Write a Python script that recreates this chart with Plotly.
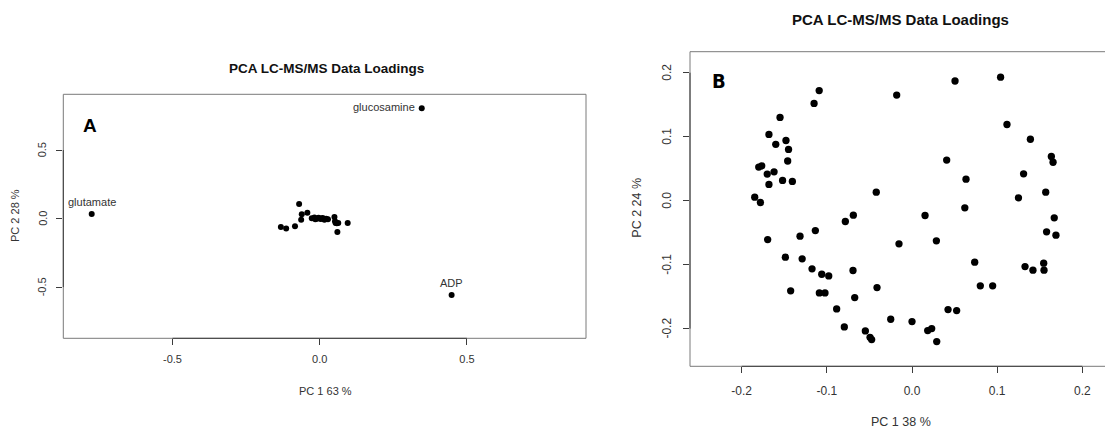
import plotly.graph_objects as go

W, H = 1105, 434

# ---------------- Panel A: loadings, 3 outlying metabolites + central cluster
a_named = ["glucosamine", "glutamate", "ADP"]
a_named_x = [0.3465, -0.7745, 0.448]
a_named_y = [0.804, 0.033, -0.558]
a_named_pos = ["left", "top", "top"]

a_cluster_x = [-0.132, -0.114, -0.084, -0.070, -0.061, -0.063, -0.042, -0.027,
               -0.018, -0.010, -0.004, 0.003, 0.010, 0.016, 0.022, 0.028,
               0.050, 0.052, 0.054, 0.058, 0.063, 0.060, 0.095, -0.015, 0.005]
a_cluster_y = [-0.062, -0.072, -0.057, 0.106, 0.031, -0.008, 0.043, 0.002,
               0.008, -0.002, 0.006, -0.004, 0.003, -0.008, -0.002, -0.006,
               0.012, -0.020, -0.032, -0.035, -0.033, -0.098, -0.033, -0.005, 0.000]

a_xticks = [-0.5, 0.0, 0.5]
a_yticks = [-0.5, 0.0, 0.5]
a_xrange = [-0.871, 0.9045]
a_yrange = [-0.874, 0.9066]

# ---------------- Panel B: loadings
b_x = [0.0505, 0.104, -0.109, -0.115, -0.018, -0.155, 0.1115, -0.168, -0.148, 0.139,
       -0.160, -0.145, -0.146, 0.0407, 0.1636, 0.1656, -0.180, -0.1765, -0.162, -0.170,
       0.131, -0.152, -0.1405, -0.168, 0.0634, -0.042, 0.157, -0.1847, -0.178, 0.125,
       0.062, -0.0689, 0.0153, -0.0783, 0.167, -0.1135, 0.158, 0.169, -0.1315, -0.1695,
       0.0286, -0.0153, -0.1487, -0.129, 0.0736, 0.1546, 0.1327, 0.142, 0.155, -0.1174,
       -0.0693, -0.106, -0.0978, -0.0411, -0.1425, -0.1088, -0.1022, 0.0802, 0.0947, -0.0673,
       -0.0885, 0.0423, 0.0524, -0.025, 0.0, -0.0795, 0.0184, 0.0231, -0.0548, -0.0493,
       -0.0474, 0.029]
b_y = [0.187, 0.193, 0.172, 0.152, 0.165, 0.130, 0.119, 0.1035, 0.094, 0.096,
       0.088, 0.080, 0.062, 0.0634, 0.069, 0.060, 0.0524, 0.0545, 0.045, 0.0415,
       0.042, 0.0316, 0.030, 0.0253, 0.0336, 0.0133, 0.0133, 0.0055, -0.0029, 0.0044,
       -0.0112, -0.0227, -0.0232, -0.0326, -0.0269, -0.0467, -0.0487, -0.054, -0.0555, -0.0608,
       -0.0628, -0.0675, -0.0884, -0.091, -0.0962, -0.0978, -0.103, -0.1087, -0.1087, -0.1066,
       -0.1092, -0.115, -0.1176, -0.1358, -0.141, -0.1442, -0.1442, -0.1332, -0.1332, -0.1515,
       -0.1692, -0.1703, -0.1718, -0.1854, -0.189, -0.1973, -0.203, -0.200, -0.2036, -0.2136,
       -0.2172, -0.2203]

b_xticks = [-0.2, -0.1, 0.0, 0.1, 0.2]
b_yticks = [-0.2, -0.1, 0.0, 0.1, 0.2]
b_xrange = [-0.2607, 0.2266]
b_yrange = [-0.2589, 0.2328]

title_text = "PCA LC-MS/MS Data Loadings"
a_xlabel, a_ylabel = "PC 1 63 %", "PC 2 28 %"
b_xlabel, b_ylabel = "PC 1 38 %", "PC 2 24 %"

FONT = "Liberation Sans, Arial, sans-serif"
BOX = "#7a7a7a"
AX = "#3c3c3c"
TXT = "#333333"


def px(x):
    return x / W


def py(y):
    return 1 - y / H


def fmt(t):
    return f"{t:.1f}"


fig = go.Figure()

fig.add_trace(go.Scatter(
    x=a_cluster_x + a_named_x, y=a_cluster_y + a_named_y, mode="markers",
    marker=dict(color="black", size=6), xaxis="x", yaxis="y", hoverinfo="skip"))
fig.add_trace(go.Scatter(
    x=b_x, y=b_y, mode="markers",
    marker=dict(color="black", size=7.3), xaxis="x2", yaxis="y2", hoverinfo="skip"))


def axis(domain, rng, ticks, size, anchor, labels=True, standoff=None):
    d = dict(domain=domain, range=rng, tickvals=ticks,
             ticktext=[fmt(t) for t in ticks], showticklabels=labels,
             ticks="outside", ticklen=6, tickwidth=1, tickcolor=AX,
             showgrid=False, zeroline=False, showline=False,
             tickfont=dict(family=FONT, size=size, color=TXT),
             anchor=anchor, fixedrange=True)
    if standoff is not None:
        d["ticklabelstandoff"] = standoff
    return d


fig.update_layout(
    width=W, height=H, margin=dict(l=0, r=0, t=0, b=0),
    paper_bgcolor="white", plot_bgcolor="white", showlegend=False,
    xaxis=axis([px(63.3), px(586)], a_xrange, a_xticks, 11, "y", standoff=4),
    yaxis=axis([py(338.3), py(94.3)], a_yrange, a_yticks, 11, "x", labels=False),
    xaxis2=axis([px(690), 1.0], b_xrange, b_xticks, 12, "y2", standoff=7),
    yaxis2=axis([py(366.3), py(51.7)], b_yrange, b_yticks, 12, "x2", labels=False),
)

shapes = []
# Panel A: full box
shapes.append(dict(type="rect", xref="x domain", yref="y domain", x0=0, x1=1, y0=0, y1=1,
                   line=dict(color=BOX, width=1)))
# Panel B: box runs off the right edge, so only top/left/bottom are drawn
for (x0, y0, x1, y1) in [(0, 1, 1, 1), (0, 0, 0, 1), (0, 0, 1, 0)]:
    shapes.append(dict(type="line", xref="x2 domain", yref="y2 domain",
                       x0=x0, y0=y0, x1=x1, y1=y1, line=dict(color=BOX, width=1)))
# axis lines spanning first to last tick
shapes.append(dict(type="line", xref="x", yref="y domain", x0=a_xticks[0], x1=a_xticks[-1],
                   y0=0, y1=0, line=dict(color=AX, width=1)))
shapes.append(dict(type="line", xref="x domain", yref="y", y0=a_yticks[0], y1=a_yticks[-1],
                   x0=0, x1=0, line=dict(color=AX, width=1)))
shapes.append(dict(type="line", xref="x2", yref="y2 domain", x0=b_xticks[0], x1=b_xticks[-1],
                   y0=0, y1=0, line=dict(color=AX, width=1)))
shapes.append(dict(type="line", xref="x2 domain", yref="y2", y0=b_yticks[0], y1=b_yticks[-1],
                   x0=0, x1=0, line=dict(color=AX, width=1)))
fig.update_layout(shapes=shapes)

ann = []
# point labels in panel A
for name, x, y, pos in zip(a_named, a_named_x, a_named_y, a_named_pos):
    if pos == "left":
        ann.append(dict(x=x, y=y, xref="x", yref="y", text=name, showarrow=False,
                        xanchor="right", yanchor="middle", xshift=-5, yshift=1,
                        font=dict(family=FONT, size=11, color=TXT)))
    else:
        ann.append(dict(x=x, y=y, xref="x", yref="y", text=name, showarrow=False,
                        xanchor="center", yanchor="bottom", yshift=4,
                        font=dict(family=FONT, size=11, color=TXT)))

# rotated y tick labels (read bottom to top)
for t in a_yticks:
    ann.append(dict(x=0, y=t, xref="x domain", yref="y", text=fmt(t), textangle=-90,
                    showarrow=False, xanchor="center", yanchor="middle", xshift=-21,
                    font=dict(family=FONT, size=11, color=TXT)))
for t in b_yticks:
    ann.append(dict(x=0, y=t, xref="x2 domain", yref="y2", text=fmt(t), textangle=-90,
                    showarrow=False, xanchor="center", yanchor="middle", xshift=-23,
                    font=dict(family=FONT, size=12, color=TXT)))

# titles
ann.append(dict(x=px(326.5), y=py(68), xref="paper", yref="paper", text=f"<b>{title_text}</b>",
                showarrow=False, xanchor="center", yanchor="middle",
                font=dict(family=FONT, size=13.5, color="#111")))
ann.append(dict(x=px(900.7), y=py(19.5), xref="paper", yref="paper", text=f"<b>{title_text}</b>",
                showarrow=False, xanchor="center", yanchor="middle",
                font=dict(family=FONT, size=15, color="#111")))
# axis titles
ann.append(dict(x=px(325), y=py(391), xref="paper", yref="paper", text=a_xlabel,
                showarrow=False, xanchor="center", yanchor="middle",
                font=dict(family=FONT, size=11, color=TXT)))
ann.append(dict(x=px(15), y=py(216), xref="paper", yref="paper", text=a_ylabel, textangle=-90,
                showarrow=False, xanchor="center", yanchor="middle",
                font=dict(family=FONT, size=11, color=TXT)))
ann.append(dict(x=px(900.7), y=py(422), xref="paper", yref="paper", text=b_xlabel,
                showarrow=False, xanchor="center", yanchor="middle",
                font=dict(family=FONT, size=12.5, color=TXT)))
ann.append(dict(x=px(636.7), y=py(208), xref="paper", yref="paper", text=b_ylabel, textangle=-90,
                showarrow=False, xanchor="center", yanchor="middle",
                font=dict(family=FONT, size=12.5, color=TXT)))
# panel letters
ann.append(dict(x=px(89.7), y=py(125.5), xref="paper", yref="paper", text="<b>A</b>",
                showarrow=False, xanchor="center", yanchor="middle",
                font=dict(family=FONT, size=19, color="black")))
ann.append(dict(x=px(718.8), y=py(80.5), xref="paper", yref="paper", text="<b>B</b>",
                showarrow=False, xanchor="center", yanchor="middle",
                font=dict(family="DejaVu Sans Condensed, Liberation Sans, sans-serif", size=20,
                          color="black")))
fig.update_layout(annotations=ann)

fig.write_html("out.html")
